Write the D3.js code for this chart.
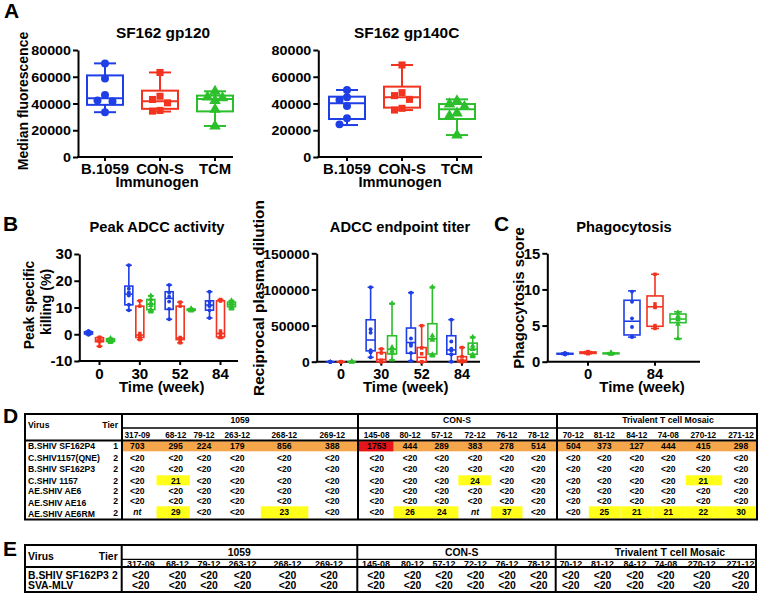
<!DOCTYPE html>
<html><head><meta charset="utf-8">
<script src="https://cdn.jsdelivr.net/npm/d3@7"></script>
<style>
body{margin:0;background:#fff}
svg{display:block}
text{font-family:"Liberation Sans",Arial,sans-serif;font-weight:bold;fill:#000}
</style>
</head><body>
<svg id="c" width="760" height="606"></svg>
<script>
// ---------- DATA ----------
const immunogens = ["B.1059", "CON-S", "TCM"];
const fluorTicks = [0, 20000, 40000, 60000, 80000];
// box stats: [min, q1, median, q3, max]
const gp120Box = [[33500,39000,44000,61000,70000],[34000,36000,41700,49600,63200],[23200,34100,43300,45900,49100]];
const gp120Pts = [[70000,58700,46400,42200,41500,33500],[63200,45400,43000,40500,34800,34300],[49100,44700,44200,42200,35600,23000]];
const gp140Box = [[23900,28400,40100,45100,50100],[35100,36900,44600,52600,68800],[16400,28400,35700,39600,43100]];
const gp140Pts = [[50100,44600,42600,38100,28900,24400],[68800,48100,45900,43100,36400,35100],[41900,39600,37600,32700,30700,16400]];

const weeksB = ["0", "30", "52", "84"];
const peakTicks = [-10, 0, 10, 20, 30];
const peakBox1059 = [[-0.2,0.1,0.5,0.9,1.2],[9,11,15,18,25.8],[5.6,9.3,13.4,15.9,18.4],[6.1,9,10.9,12.5,15.9]];
const peakPts1059 = [[1.2,0.9,0.6,0.4,0.1,-0.2],[25.8,17,15.6,14.5,11,9],[18.4,15.5,14,12.2,9.5,5.6],[15.9,12.2,11,10.5,9,6.1]];
const peakBoxCons = [[-4.5,-2.8,-2.2,-1.3,-1.1],[-2,-1.2,-0.3,10.5,12.5],[-3.2,-2,-1.4,10.5,12],[-1.5,-1,0.3,12.5,13]];
const peakPtsCons = [[-1.1,-1.5,-2,-2.4,-2.8,-4.5],[12.5,10.5,0.3,-0.5,-1.3,-2],[12,10.5,-1.2,-1.6,-2.2,-3.2],[13,12.4,1.2,0.4,-0.5,-1.2]];
const peakBoxTcm = [[-3,-2.7,-2.2,-1.7,-1.5],[8.4,9.2,11.2,13,14.4],[8.7,8.9,9.1,9.4,9.6],[9.5,10.3,11.2,12,12.6]];
const peakPtsTcm = [[-1.5,-1.8,-2.1,-2.3,-2.7,-3],[14.4,13,11.8,10.8,9.3,8.4],[9.6,9.3,9.2,9,8.9,8.7],[12.6,12,11.5,11,10.4,9.5]];

const titerTicks = [0, 50000, 100000, 150000];
const titerBox1059 = [[0,0,0,0,0],[6000,15000,30000,58000,103000],[1000,11700,26500,46600,95500],[0,10300,16300,35900,58200]];
const titerPts1059 = [[0,0,0,0,0,0],[103000,45000,40000,16000,13000,6000],[95500,32000,25000,22000,12000,1000],[58200,28000,18000,15000,10000,0]];
const titerBoxCons = [[0,0,0,0,0],[0,0,3000,12600,17700],[0,0,6000,19600,49900],[0,0,2000,7000,19600]];
const titerPtsCons = [[0,0,0,0,0,0],[17700,12000,2000,0,0,0],[49900,19000,11000,0,0,0],[19600,7000,2000,0,0,0]];
const titerBoxTcm = [[0,0,0,0,0],[2400,10700,17300,35900,80600],[8000,10700,31700,52600,103300],[7000,10300,17300,25700,34100]];
const titerPtsTcm = [[0,0,0,0,0,0],[80600,20000,18000,15000,12000,2400],[103300,36000,32000,30000,10000,8000],[34100,22000,18000,17000,10000,7000]];

const weeksC = ["0", "84"];
const phagoTicks = [0, 5, 10, 15];
const phagoBox1059 = [[1.0,1.05,1.1,1.15,1.2],[3.4,3.7,5.6,8.5,9.8]];
const phagoPts1059 = [[1.2,1.15,1.1,1.1,1.05,1.0],[9.7,8.3,6,4.8,3.5,3.4]];
const phagoBoxCons = [[1.1,1.15,1.25,1.35,1.4],[4.6,4.9,7.6,9.1,12.1]];
const phagoPtsCons = [[1.4,1.3,1.25,1.2,1.15,1.1],[12.1,8,7.6,7.5,5,4.6]];
const phagoBoxTcm = [[1.05,1.1,1.15,1.2,1.25],[3.2,5.4,5.9,6.6,6.9]];
const phagoPtsTcm = [[1.25,1.2,1.15,1.15,1.1,1.05],[6.8,6.3,6.1,5.8,5.2,3.2]];

const groupNames = ["1059", "CON-S", "Trivalent T cell Mosaic"];
const strains1059 = ["317-09","68-12","79-12","263-12","268-12","269-12"];
const strainsCons = ["145-08","80-12","57-12","72-12","76-12","78-12"];
const strainsTcm = ["70-12","81-12","84-12","74-08","270-12","271-12"];
const virusesD = ["B.SHIV SF162P4","C.SHIV1157(QNE)","B.SHIV SF162P3","C.SHIV 1157","AE.SHIV AE6","AE.SHIV AE16","AE.SHIV AE6RM"];
const tiersD = ["1","2","2","2","2","2","2"];
const titersD = [
  ["703","295","224","179","856","388","1753","444","289","383","278","514","504","373","127","444","415","298"],
  ["<20","<20","<20","<20","<20","<20","<20","<20","<20","<20","<20","<20","<20","<20","<20","<20","<20","<20"],
  ["<20","<20","<20","<20","<20","<20","<20","<20","<20","<20","<20","<20","<20","<20","<20","<20","<20","<20"],
  ["<20","21","<20","<20","<20","<20","<20","<20","<20","24","<20","<20","<20","<20","<20","<20","21","<20"],
  ["<20","<20","<20","<20","<20","<20","<20","<20","<20","<20","<20","<20","<20","<20","<20","<20","<20","<20"],
  ["<20","<20","<20","<20","<20","<20","<20","<20","<20","<20","<20","<20","<20","<20","<20","<20","<20","<20"],
  ["nt","29","<20","<20","23","<20","<20","26","24","nt","37","<20","<20","25","21","21","22","30"]
];
const virusesE = ["B.SHIV SF162P3","SVA-MLV"];
const tiersE = ["2",""];
const titersE = [
  ["<20","<20","<20","<20","<20","<20","<20","<20","<20","<20","<20","<20","<20","<20","<20","<20","<20","<20"],
  ["<20","<20","<20","<20","<20","<20","<20","<20","<20","<20","<20","<20","<20","<20","<20","<20","<20","<20"]
];

// ---------- STYLE ----------
const BLUE = "#1f3fe6", RED = "#f2331f", GREEN = "#2cbf2c";
const ORANGE = "#f5a54a", YELLOW = "#ffff1a", CELLRED = "#e8141c";
const svg = d3.select("#c");
svg.append("rect").attr("width", 760).attr("height", 606).attr("fill", "#fff");

function T(x, y, s, o = {}) {
  const g = svg.append("g").attr("transform", `translate(${x},${y}) scale(${o.sx || 1},1) rotate(${o.rot || 0})`);
  const t = g.append("text").attr("text-anchor", o.anchor || "middle").attr("dy", "0.35em")
    .attr("font-size", o.fs || 14).text(s);
  if (o.italic) t.attr("font-style", "italic");
  return t;
}

function placeJitter(vals, y, d, maxOff) {
  const placed = [];
  return vals.map(v => {
    const py = y(v);
    const cands = [0, -d, d];
    let off = 0;
    for (const c of cands) {
      if (Math.abs(c) > maxOff + 0.01) continue;
      if (placed.every(p => Math.hypot(p[0] - c, p[1] - py) >= d * 0.95)) { off = c; break; }
    }
    placed.push([off, py]);
    return [off, py];
  });
}

function drawBox(g, cx, y, stats, color, bw, cw, sw) {
  const [mn, q1, md, q3, mx] = stats;
  const bg = g.append("g").attr("stroke", color).attr("stroke-width", sw).attr("fill", "none");
  bg.append("line").attr("x1", cx).attr("x2", cx).attr("y1", y(mx)).attr("y2", y(q3));
  bg.append("line").attr("x1", cx).attr("x2", cx).attr("y1", y(q1)).attr("y2", y(mn));
  bg.append("line").attr("x1", cx - cw / 2).attr("x2", cx + cw / 2).attr("y1", y(mx)).attr("y2", y(mx));
  bg.append("line").attr("x1", cx - cw / 2).attr("x2", cx + cw / 2).attr("y1", y(mn)).attr("y2", y(mn));
  bg.append("rect").attr("x", cx - bw / 2).attr("width", bw).attr("y", y(q3))
    .attr("height", Math.max(0, y(q1) - y(q3))).attr("fill", "#fff");
  bg.append("line").attr("x1", cx - bw / 2).attr("x2", cx + bw / 2).attr("y1", y(md)).attr("y2", y(md));
}

function drawPoints(g, cx, y, vals, shape, size, color, d, maxOff) {
  const pos = placeJitter(vals, y, d, maxOff);
  const sym = d3.symbol().type(shape).size(size);
  pos.forEach(([ox, py]) => {
    g.append("path").attr("d", sym()).attr("fill", color).attr("transform", `translate(${cx + ox},${py})`);
  });
}

function drawAxes(g, cfg, y, x) {
  const axisY = y(cfg.domain[0]);
  const ya = g.append("g").attr("transform", `translate(${cfg.x0},0)`)
    .call(d3.axisLeft(y).tickValues(cfg.ticks).tickSize(5).tickSizeOuter(0).tickFormat(d => d));
  ya.attr("font-size", null).attr("font-family", null);
  ya.select(".domain").attr("stroke-width", 2);
  ya.selectAll(".tick line").attr("stroke-width", 2);
  ya.selectAll(".tick text").attr("x", 0).attr("dy", "0.35em").attr("font-size", cfg.tickFs)
    .attr("transform", `translate(-7,0) scale(${cfg.sx},1)`);
  g.append("line").attr("x1", cfg.x0 - 1).attr("x2", cfg.x1).attr("y1", axisY).attr("y2", axisY)
    .attr("stroke", "#000").attr("stroke-width", 2);
  cfg.cats.forEach(c => {
    g.append("line").attr("x1", x(c)).attr("x2", x(c)).attr("y1", axisY).attr("y2", axisY + 4)
      .attr("stroke", "#000").attr("stroke-width", 2);
    T(x(c), cfg.xLabY, c, { fs: cfg.xFs, sx: cfg.sx });
  });
}

function drawChart(cfg) {
  const g = svg.append("g");
  const y = d3.scaleLinear().domain(cfg.domain).range([cfg.yBot, cfg.yTop]);
  const x = d3.scalePoint().domain(cfg.cats).range(cfg.catRange);
  const sub = d3.scalePoint().domain(d3.range(cfg.series.length)).range(cfg.subRange);
  drawAxes(g, cfg, y, x);
  cfg.series.forEach((s, si) => {
    cfg.cats.forEach((c, ci) => {
      const cx = x(c) + sub(si);
      drawBox(g, cx, y, s.box[ci], s.color, cfg.boxW, cfg.capW, cfg.sw);
      drawPoints(g, cx, y, s.pts[ci], s.shape, s.size, s.color, cfg.mD, cfg.maxOff);
    });
  });
}

function series3(b1, p1, b2, p2, b3, p3, sizes) {
  return [
    { color: BLUE, shape: d3.symbolCircle, size: sizes[0], box: b1, pts: p1 },
    { color: RED, shape: d3.symbolSquare, size: sizes[1], box: b2, pts: p2 },
    { color: GREEN, shape: d3.symbolTriangle, size: sizes[2], box: b3, pts: p3 }
  ];
}

function drawA(box, pts, x0, x1, range) {
  const cfg = { domain: [0, 80000], ticks: fluorTicks, x0, x1, cats: immunogens, tickFs: 13.5, sx: 1.06, xFs: 14, xLabY: 169.5 };
  const y = d3.scaleLinear().domain(cfg.domain).range([157, 50]);
  const x = d3.scalePoint().domain(immunogens).range(range);
  const g = svg.append("g");
  drawAxes(g, cfg, y, x);
  const shapes = [d3.symbolCircle, d3.symbolSquare, d3.symbolTriangle];
  const cols = [BLUE, RED, GREEN];
  const sizes = [50, 50, 58];
  immunogens.forEach((im, i) => {
    drawBox(g, x(im), y, box[i], cols[i], 36, 22, 2);
    drawPoints(g, x(im), y, pts[i], shapes[i], sizes[i], cols[i], 7.5, 10);
  });
}

// ---------- PANEL A ----------
T(4, 11, "A", { fs: 21, anchor: "start" });
T(163, 33, "SF162 gp120", { fs: 14, sx: 1.1 });
T(406.7, 33, "SF162 gp140C", { fs: 14, sx: 1.1 });
T(23, 101, "Median fluorescence", { fs: 14, sx: 1.05, rot: -90 });
T(157, 182, "Immunogen", { fs: 14, sx: 1.05 });
T(400, 182, "Immunogen", { fs: 14, sx: 1.05 });
drawA(gp120Box, gp120Pts, 78, 233, [105, 215]);
drawA(gp140Box, gp140Pts, 318.3, 482, [347, 457]);

// ---------- PANEL B ----------
T(3, 224, "B", { fs: 21, anchor: "start" });
T(157, 227.3, "Peak ADCC activity", { fs: 14, sx: 1.05 });
T(400, 227.3, "ADCC endpoint titer", { fs: 14, sx: 1.05 });
T(28.5, 305, "Peak specific", { fs: 14, sx: 1.05, rot: -90 });
T(46, 302, "killing (%)", { fs: 14, sx: 1.05, rot: -90 });
T(258.5, 298, "Reciprocal plasma dilution", { fs: 15.4, sx: 1.0, rot: -90 });
T(161.7, 387.5, "Time (week)", { fs: 14, sx: 1.07 });
T(405.7, 387.5, "Time (week)", { fs: 14, sx: 1.07 });

drawChart({
  domain: [-10, 30], yTop: 254, yBot: 361, x0: 79.3, x1: 238, cats: weeksB, catRange: [99.5, 220.5],
  subRange: [-11, 11], ticks: peakTicks, tickFs: 14, sx: 1.08, xFs: 14, xLabY: 374.5,
  boxW: 8, capW: 6, sw: 1.6, mD: 3.5, maxOff: 2.5,
  series: series3(peakBox1059, peakPts1059, peakBoxCons, peakPtsCons, peakBoxTcm, peakPtsTcm, [12, 12, 14])
});
drawChart({
  domain: [0, 150000], yTop: 253.3, yBot: 361.7, x0: 316.7, x1: 480, cats: weeksB, catRange: [341, 462],
  subRange: [-10.7, 10.7], ticks: titerTicks, tickFs: 13.5, sx: 1.03, xFs: 14, xLabY: 374.5,
  boxW: 9, capW: 6, sw: 1.6, mD: 3.5, maxOff: 2.5,
  series: series3(titerBox1059, titerPts1059, titerBoxCons, titerPtsCons, titerBoxTcm, titerPtsTcm, [12, 12, 14])
});

// ---------- PANEL C ----------
T(494, 224, "C", { fs: 21, anchor: "start" });
T(624, 227.3, "Phagocytosis", { fs: 14, sx: 1.05 });
T(518.5, 298, "Phagocytosis score", { fs: 15, sx: 1.0, rot: -90 });
T(642, 387.5, "Time (week)", { fs: 14, sx: 1.07 });
drawChart({
  domain: [0, 15], yTop: 253.3, yBot: 361.7, x0: 547.3, x1: 700, cats: weeksC, catRange: [588, 655],
  subRange: [-23, 23], ticks: phagoTicks, tickFs: 14, sx: 1.06, xFs: 14, xLabY: 374.5,
  boxW: 16, capW: 8, sw: 1.6, mD: 3.5, maxOff: 3,
  series: series3(phagoBox1059, phagoPts1059, phagoBoxCons, phagoPtsCons, phagoBoxTcm, phagoPtsTcm, [12, 12, 14])
});

// ---------- TABLES ----------
function drawTable(cfg) {
  const g = svg.append("g");
  const strains = strains1059.concat(strainsCons, strainsTcm);
  const divs = [cfg.tierDiv, cfg.d1, cfg.d2, cfg.right];
  const cellL = j => (j % 6 === 0) ? divs[j / 6] : (cfg.colX[j - 1] + cfg.colX[j]) / 2;
  const cellR = j => (j % 6 === 5) ? divs[(j + 1) / 6] : (cfg.colX[j] + cfg.colX[j + 1]) / 2;
  cfg.titers.forEach((row, r) => {
    const [b0, b1] = cfg.bands[r];
    if (cfg.tiers[r] === "1") {
      g.append("rect").attr("x", cfg.tierDiv).attr("width", cfg.right - cfg.tierDiv)
        .attr("y", b0).attr("height", b1 - b0).attr("fill", ORANGE);
    }
    row.forEach((v, j) => {
      const n = +v;
      if (isNaN(n)) return;
      let col = null;
      if (n >= 1000) col = CELLRED;
      else if (cfg.tiers[r] !== "1") col = YELLOW;
      if (!col) return;
      g.append("rect").attr("x", cellL(j)).attr("width", cellR(j) - cellL(j))
        .attr("y", b0).attr("height", b1 - b0).attr("fill", col);
    });
  });
  const L = (x1, y1, x2, y2, w) => g.append("line").attr("x1", x1).attr("y1", y1).attr("x2", x2).attr("y2", y2)
    .attr("stroke", "#000").attr("stroke-width", w);
  L(cfg.tierDiv, cfg.hdrLine, cfg.right, cfg.hdrLine, 1.3);
  L(cfg.left, cfg.subBottom, cfg.right, cfg.subBottom, 2);
  [cfg.tierDiv, cfg.d1, cfg.d2].forEach(xx => L(xx, cfg.top, xx, cfg.bottom, 2));
  g.append("rect").attr("x", cfg.left).attr("y", cfg.top).attr("width", cfg.right - cfg.left)
    .attr("height", cfg.bottom - cfg.top).attr("fill", "none").attr("stroke", "#000").attr("stroke-width", 2);
  const o = { fs: cfg.fs, sx: cfg.sx };
  const oh = { fs: cfg.hfs, sx: cfg.hsx };
  T(cfg.left + 3, cfg.virusY, "Virus", { ...o, anchor: "start" });
  T(cfg.tierDiv - 4, cfg.virusY, "Tier", { ...o, anchor: "end" });
  groupNames.forEach((gn, i) => T(cfg.groupX[i], cfg.groupY, gn, o));
  strains.forEach((s, j) => T(cfg.colX[j], cfg.subY, s, oh));
  cfg.viruses.forEach((v, r) => {
    T(cfg.left + 3, cfg.labelY[r], v, { ...o, anchor: "start" });
    if (cfg.tiers[r]) T(cfg.tierDiv - 4, cfg.tierY[r], cfg.tiers[r], { ...o, anchor: "end" });
    cfg.titers[r].forEach((val, j) => T(cfg.colX[j], cfg.valY[r], val, { ...o, italic: val === "nt" }));
  });
}

T(3, 416, "D", { fs: 21, anchor: "start" });
drawTable({
  top: 414, hdrLine: 428, subBottom: 440.5, bottom: 519.5, left: 25, tierDiv: 122, d1: 358, d2: 557, right: 757,
  colX: [137.3, 175.7, 204, 237.3, 284.3, 332.3, 376.7, 410, 441.7, 475, 506.7, 538.3, 573.3, 604.3, 636.7, 668.3, 703.3, 741],
  groupX: [240, 457, 668], groupY: 419.5, subY: 434.3, virusY: 425,
  viruses: virusesD, tiers: tiersD, titers: titersD,
  labelY: [446, 457.7, 469, 480.5, 491, 503, 513.5],
  tierY: [446, 457.7, 469, 480.5, 491, 500.5, 512.5],
  valY: [446, 457.7, 469, 480.5, 491, 500.5, 512],
  bands: [[441.3, 451.3], [452, 463], [463.5, 474.5], [475.3, 485.3], [486, 496], [496, 505], [506.3, 518.5]],
  fs: 9.6, sx: 0.9, hfs: 9.6, hsx: 0.86
});

T(3, 549, "E", { fs: 21, anchor: "start" });
drawTable({
  top: 545, hdrLine: 559.3, subBottom: 567, bottom: 592, left: 25, tierDiv: 121.7, d1: 357.3, d2: 555.7, right: 756,
  colX: [140.8, 177.5, 209, 242.5, 287.5, 329, 376, 412.5, 444, 475.5, 507, 538.8, 570.8, 602.5, 635, 665.8, 701.7, 740.5],
  groupX: [239.3, 461.7, 670], groupY: 552.5, subY: 563.3, virusY: 556,
  viruses: virusesE, tiers: tiersE, titers: titersE,
  labelY: [575, 585.3], tierY: [575, 585.3], valY: [575, 585.3],
  bands: [[569, 580], [580, 591]],
  fs: 10.4, sx: 1.0, hfs: 9.4, hsx: 0.95
});
</script></body></html>
